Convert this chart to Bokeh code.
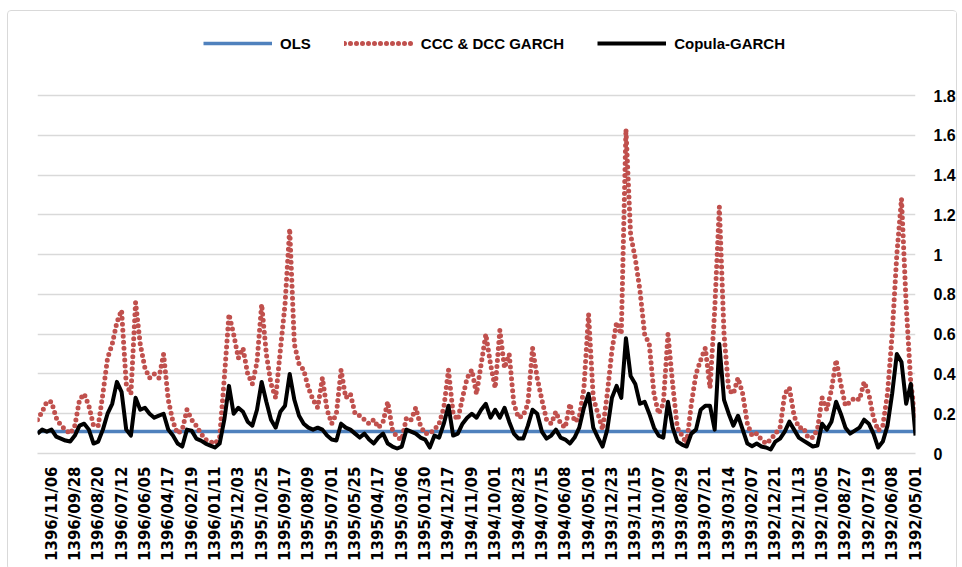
import math
from bokeh.plotting import figure
from bokeh.models import Range1d, FixedTicker, NumeralTickFormatter, Legend, LegendItem
from bokeh.embed import file_html
from bokeh.resources import INLINE

# ---- data ----
dates = ["1396/11/06", "1396/09/28", "1396/08/20", "1396/07/12", "1396/06/05", "1396/04/17",
         "1396/02/19", "1396/01/11", "1395/12/03", "1395/10/25", "1395/09/17", "1395/08/09",
         "1395/07/01", "1395/05/25", "1395/04/17", "1395/03/06", "1395/01/30", "1394/12/17",
         "1394/11/09", "1394/10/01", "1394/08/23", "1394/07/15", "1394/06/08", "1394/05/01",
         "1393/12/23", "1393/11/15", "1393/10/07", "1393/08/29", "1393/07/21", "1393/03/14",
         "1393/02/07", "1392/12/21", "1392/11/13", "1392/10/05", "1392/08/27", "1392/07/19",
         "1392/06/08", "1392/05/01"]
points_per_label = 5
first_label_point = 3

copula = [
    0.10, 0.12, 0.11, 0.12, 0.085, 0.075, 0.065, 0.06, 0.09, 0.14, 0.15, 0.12, 0.05, 0.06, 0.12, 0.20,
    0.25, 0.36, 0.31, 0.12, 0.09, 0.28, 0.22, 0.23, 0.20, 0.18, 0.19, 0.20, 0.12, 0.09, 0.05, 0.035, 0.12,
    0.115, 0.075, 0.065, 0.05, 0.04, 0.03, 0.05, 0.17, 0.34, 0.20, 0.23, 0.21, 0.16, 0.14, 0.22, 0.36,
    0.26, 0.17, 0.13, 0.21, 0.24, 0.40, 0.27, 0.19, 0.15, 0.13, 0.12, 0.13, 0.12, 0.09, 0.07, 0.065, 0.15, 0.13,
    0.12, 0.10, 0.08, 0.10, 0.07, 0.05, 0.08, 0.10, 0.05, 0.035, 0.025, 0.035, 0.12, 0.11, 0.10, 0.08,
    0.07, 0.03, 0.09, 0.08, 0.15, 0.24, 0.09, 0.10, 0.15, 0.18, 0.20, 0.18, 0.22, 0.25, 0.18, 0.22, 0.18, 0.23, 0.16,
    0.10, 0.075, 0.075, 0.14, 0.22, 0.20, 0.11, 0.075, 0.09, 0.12, 0.08, 0.07, 0.05, 0.08, 0.13, 0.23,
    0.30, 0.13, 0.08, 0.035, 0.12, 0.28, 0.34, 0.28, 0.58,
    0.39, 0.35, 0.25, 0.26, 0.20, 0.13, 0.09, 0.08, 0.26, 0.13, 0.06, 0.045, 0.035, 0.10, 0.12, 0.22,
    0.24, 0.24, 0.12, 0.55, 0.27, 0.20, 0.14, 0.19, 0.12, 0.05, 0.037, 0.05,
    0.035, 0.03, 0.02, 0.06, 0.075, 0.11, 0.16, 0.12, 0.08, 0.065, 0.05, 0.035, 0.04, 0.15, 0.12, 0.16,
    0.26, 0.20, 0.13, 0.10, 0.115, 0.13, 0.17, 0.15, 0.10, 0.03, 0.06, 0.14, 0.30, 0.50, 0.46, 0.25, 0.35, 0.09,
]

ccc_dcc = [
    0.17, 0.21, 0.26, 0.26, 0.18, 0.14, 0.12, 0.10, 0.14, 0.27, 0.30, 0.24, 0.14, 0.14, 0.30, 0.48,
    0.55, 0.66, 0.72, 0.35, 0.30, 0.76, 0.55, 0.43, 0.38, 0.40, 0.38, 0.50, 0.27, 0.16, 0.10, 0.12, 0.22,
    0.17, 0.14, 0.10, 0.07, 0.06, 0.05, 0.08, 0.38, 0.70, 0.60, 0.48, 0.53, 0.40, 0.35, 0.46, 0.75,
    0.50, 0.35, 0.28, 0.52, 0.75, 1.13, 0.55, 0.45, 0.42, 0.33, 0.27, 0.23, 0.38, 0.22, 0.15, 0.20, 0.42, 0.28,
    0.30, 0.20, 0.19, 0.17, 0.15, 0.17, 0.13, 0.16, 0.26, 0.12, 0.08, 0.07, 0.18, 0.17, 0.23, 0.14,
    0.10, 0.10, 0.12, 0.15, 0.23, 0.42, 0.20, 0.17, 0.28, 0.38, 0.42, 0.30, 0.45, 0.60, 0.45, 0.33, 0.62, 0.43, 0.50,
    0.25, 0.18, 0.19, 0.25, 0.53, 0.38, 0.27, 0.17, 0.15, 0.21, 0.15, 0.13, 0.25, 0.16, 0.18, 0.33,
    0.70, 0.28, 0.20, 0.12, 0.30, 0.52, 0.66, 0.60, 1.63,
    1.10, 0.98, 0.82, 0.60, 0.55, 0.30, 0.20, 0.25, 0.60, 0.35, 0.13, 0.09, 0.05, 0.25, 0.40, 0.47,
    0.53, 0.33, 0.72, 1.24, 0.60, 0.32, 0.30, 0.38, 0.30, 0.15, 0.09, 0.10,
    0.07, 0.05, 0.07, 0.10, 0.13, 0.30, 0.33, 0.19, 0.13, 0.13, 0.08, 0.08, 0.12, 0.28, 0.22, 0.32,
    0.47, 0.35, 0.24, 0.26, 0.28, 0.27, 0.36, 0.30, 0.18, 0.115, 0.14, 0.30, 0.60, 1.00, 1.28, 0.75, 0.35, 0.18,
]

ols_value = 0.11
ols = [ols_value] * len(copula)

y_ticks = [0, 0.2, 0.4, 0.6, 0.8, 1, 1.2, 1.4, 1.6, 1.8]

# ---- figure ----
N = len(copula)
xs = list(range(N))

GRID = "#D9D9D9"
YLABEL_FONT = "Liberation Sans"
XLABEL_FONT = "DejaVu Sans"
LEGEND_FONT = "Liberation Sans"

p = figure(width=950, height=560, output_backend="svg", toolbar_location=None,
           x_range=Range1d(0, N - 1), y_range=Range1d(0, 1.8 * 435 / 358),
           y_axis_location="right",
           min_border_left=29, min_border_right=41, min_border_top=7, min_border_bottom=118,
           outline_line_color=None, background_fill_color="white", border_fill_color="white")
p.styles = {"margin-left": "7px", "margin-top": "10px",
            "border": "1px solid #D9D9D9", "border-radius": "4px"}

yticker = FixedTicker(ticks=y_ticks)
p.yaxis.ticker = yticker
p.ygrid.ticker = yticker
p.ygrid.grid_line_color = GRID
p.ygrid.grid_line_width = 1.5
p.xgrid.grid_line_color = None

p.yaxis.formatter = NumeralTickFormatter(format="0.[0]")
p.yaxis.axis_line_color = None
p.yaxis.major_tick_line_color = None
p.yaxis.major_tick_out = 0
p.yaxis.major_tick_in = 0
p.yaxis.minor_tick_line_color = None
p.yaxis.major_label_standoff = 18
p.yaxis.major_label_text_font = YLABEL_FONT
p.yaxis.major_label_text_font_style = "bold"
p.yaxis.major_label_text_font_size = "16px"
p.yaxis.major_label_text_color = "black"

label_pos = [first_label_point + points_per_label * i for i in range(len(dates))]
p.xaxis.ticker = FixedTicker(ticks=label_pos)
p.xaxis.major_label_overrides = {pos: d for pos, d in zip(label_pos, dates)}
p.xaxis.major_label_orientation = math.pi / 2
p.xaxis.axis_line_color = GRID
p.xaxis.axis_line_width = 1.5
p.xaxis.major_tick_line_color = None
p.xaxis.major_tick_out = 0
p.xaxis.major_tick_in = 0
p.xaxis.minor_tick_line_color = None
p.xaxis.major_label_standoff = 13
p.xaxis.major_label_text_font = XLABEL_FONT
p.xaxis.major_label_text_font_style = "bold"
p.xaxis.major_label_text_font_size = "15px"
p.xaxis.major_label_text_color = "black"

r_ols = p.line(xs, ols, line_color="#4F81BD", line_width=3.5)
r_ccc = p.line(xs, ccc_dcc, line_color="#C0504D", line_width=5, line_dash="0 6",
               line_cap="round", line_join="round")
r_cop = p.line(xs, copula, line_color="black", line_width=4, line_join="round")

legend = Legend(items=[LegendItem(label="OLS", renderers=[r_ols]),
                       LegendItem(label="CCC & DCC GARCH", renderers=[r_ccc]),
                       LegendItem(label="Copula-GARCH", renderers=[r_cop])],
                orientation="horizontal", location=(166, 400),
                glyph_width=69, glyph_height=20, label_height=20, label_standoff=8,
                spacing=33, padding=5, border_line_color=None, background_fill_alpha=0,
                label_text_font=LEGEND_FONT, label_text_font_style="bold",
                label_text_font_size="15px", label_text_color="black")
p.add_layout(legend, "center")

open("out.html", "w").write(file_html(p, INLINE))
